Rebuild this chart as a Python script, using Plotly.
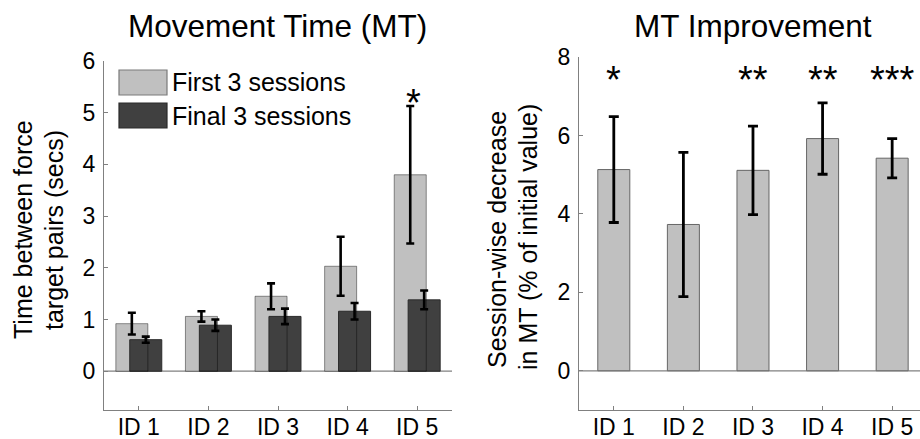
import plotly.graph_objects as go

# ---------------- data ----------------
categories = ["ID 1", "ID 2", "ID 3", "ID 4", "ID 5"]
cat_pos = [1, 2, 3, 4, 5]

first_mean = [0.92, 1.06, 1.45, 2.03, 3.80]
first_err = [0.21, 0.10, 0.25, 0.57, 1.33]
final_mean = [0.61, 0.89, 1.06, 1.16, 1.38]
final_err = [0.06, 0.11, 0.15, 0.16, 0.18]
left_sig = ["", "", "", "", "*"]

impr_mean = [5.13, 3.73, 5.11, 5.92, 5.42]
impr_err = [1.35, 1.84, 1.13, 0.91, 0.50]
right_sig = ["*", "", "**", "**", "***"]

left_yticks = [0, 1, 2, 3, 4, 5, 6]
right_yticks = [0, 2, 4, 6, 8]

series_names = ["First 3 sessions", "Final 3 sessions"]
left_ytitle = ["Time between force", "target pairs (secs)"]
right_ytitle = ["Session-wise decrease", "in MT (% of initial value)"]

# ---------------- style ----------------
FONT = "Liberation Sans, Arial, sans-serif"
LIGHT = "#c0c0c0"
DARK = "#404040"
AXIS = "#808080"
W, H = 920, 439

def px_x(p):
    return p / W

def px_y(p):
    return (H - p) / H

fig = go.Figure()

bw = 0.46
fig.add_trace(go.Bar(
    x=cat_pos, y=first_mean, width=bw, offset=-0.1 - bw / 2,
    marker=dict(color=LIGHT, line=dict(color="rgba(0,0,0,0)", width=0)),
    error_y=dict(type="data", array=first_err, color="black", thickness=2.6, width=4),
    name=series_names[0], xaxis="x", yaxis="y", showlegend=False,
))
fig.add_trace(go.Bar(
    x=cat_pos, y=final_mean, width=bw, offset=0.1 - bw / 2,
    marker=dict(color=DARK, line=dict(color="#2a2a2a", width=1)),
    error_y=dict(type="data", array=final_err, color="black", thickness=2.6, width=4),
    name=series_names[1], xaxis="x", yaxis="y", showlegend=False,
))
fig.add_trace(go.Bar(
    x=cat_pos, y=first_mean, width=bw, offset=-0.1 - bw / 2,
    marker=dict(color="rgba(0,0,0,0)", line=dict(color="rgba(0,0,0,0.42)", width=1)),
    xaxis="x", yaxis="y", showlegend=False, hoverinfo="skip",
))

fig.add_trace(go.Bar(
    x=cat_pos, y=impr_mean, width=bw,
    marker=dict(color=LIGHT, line=dict(color="#666666", width=1)),
    error_y=dict(type="data", array=impr_err, color="black", thickness=2.8, width=5),
    name="MT Improvement", xaxis="x2", yaxis="y2", showlegend=False,
))

fig.update_layout(barmode="overlay")

common_axis = dict(
    showline=True, linecolor=AXIS, linewidth=1.2,
    ticks="inside", ticklen=4, tickcolor=AXIS, tickwidth=1,
    showgrid=False, tickfont=dict(family=FONT, size=23, color="black"),
    zeroline=False, automargin=False,
)

annotations = []
shapes = []

fig.update_layout(
    width=W, height=H,
    margin=dict(l=0, r=0, t=0, b=0),
    paper_bgcolor="white", plot_bgcolor="white",
    font=dict(family=FONT, color="black"),
    xaxis=dict(common_axis, domain=[px_x(104), px_x(452)], range=[0.5, 5.5],
               tickvals=cat_pos, ticktext=categories, anchor="y", ticklabelstandoff=-4),
    yaxis=dict(common_axis, domain=[px_y(410), px_y(61)], range=[-0.75, 6],
               tickvals=left_yticks, anchor="x", ticklabelstandoff=3),
    xaxis2=dict(common_axis, domain=[px_x(579), 1.0], range=[0.5, 5.4],
                tickvals=cat_pos, ticktext=categories, anchor="y2", ticklabelstandoff=-4),
    yaxis2=dict(common_axis, domain=[px_y(410), px_y(57)], range=[-1, 8],
                tickvals=right_yticks, anchor="x2", ticklabelstandoff=3),
)

shapes.append(dict(type="line", xref="x domain", yref="y", x0=0, x1=1, y0=0, y1=0,
                   line=dict(color=AXIS, width=1.2), layer="below"))
shapes.append(dict(type="line", xref="x2 domain", yref="y2", x0=0, x1=1, y0=0, y1=0,
                   line=dict(color=AXIS, width=1.2), layer="below"))

annotations.append(dict(text="Movement Time (MT)", xref="paper", yref="paper",
                        x=px_x(277), y=px_y(26), xanchor="center", yanchor="middle",
                        showarrow=False, font=dict(family=FONT, size=31.5, color="black")))
annotations.append(dict(text="MT Improvement", xref="paper", yref="paper",
                        x=px_x(753), y=px_y(26), xanchor="center", yanchor="middle",
                        showarrow=False, font=dict(family=FONT, size=31.5, color="black")))

for txt, cx, cy in zip(left_ytitle, [23, 54], [230, 230]):
    annotations.append(dict(text=txt, xref="paper", yref="paper",
                            x=px_x(cx), y=px_y(cy), xanchor="center", yanchor="middle",
                            textangle=-90, showarrow=False,
                            font=dict(family=FONT, size=25, color="black")))
for txt, cx, cy in zip(right_ytitle, [497, 528], [240, 237]):
    annotations.append(dict(text=txt, xref="paper", yref="paper",
                            x=px_x(cx), y=px_y(cy), xanchor="center", yanchor="middle",
                            textangle=-90, showarrow=False,
                            font=dict(family=FONT, size=25, color="black")))

leg_items = [(series_names[0], LIGHT, "#7a7a7a", 70), (series_names[1], DARK, "#2a2a2a", 103)]
for name, fill, edge, top in leg_items:
    shapes.append(dict(type="rect", xref="paper", yref="paper",
                       x0=px_x(119), x1=px_x(167), y0=px_y(top + 25), y1=px_y(top),
                       fillcolor=fill, line=dict(color=edge, width=1.2)))
    annotations.append(dict(text=name, xref="paper", yref="paper",
                            x=px_x(170), y=px_y(top + 12.5), xanchor="left", yanchor="middle",
                            showarrow=False, font=dict(family=FONT, size=25, color="black")))

for p, m, e, s in zip(cat_pos, first_mean, first_err, left_sig):
    if s:
        annotations.append(dict(text=s, xref="x", yref="y", x=p - 0.05, y=m + e,
                                xanchor="center", yanchor="middle", yshift=3,
                                showarrow=False, font=dict(family=FONT, size=38, color="black")))
for p, s in zip(cat_pos, right_sig):
    if s:
        annotations.append(dict(text=s, xref="x2", yref="y2", x=p, y=7.5,
                                xanchor="center", yanchor="middle", yshift=-3,
                                showarrow=False, font=dict(family=FONT, size=38, color="black")))

fig.update_layout(annotations=annotations, shapes=shapes)

fig.write_html("out.html", config={"displayModeBar": False},
               post_script="document.body.style.margin='0';document.body.style.overflow='hidden';")
